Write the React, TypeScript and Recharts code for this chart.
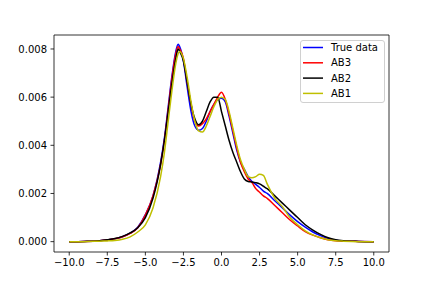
import React from 'react';
import { LineChart, Line, XAxis, YAxis, ReferenceArea } from 'recharts';

const xs = [
  -10, -9, -8, -7.5, -7, -6.5, -6, -5.5, -5, -4.5, -4, -3.75, -3.5, -3.25, -3, -2.85, -2.75, -2.5,
  -2.25, -2, -1.75, -1.5, -1.25, -1, -0.75, -0.5, -0.25, 0, 0.25, 0.5, 0.75, 1, 1.25, 1.5, 1.75, 2,
  2.25, 2.5, 2.75, 3, 3.5, 4, 4.5, 5, 5.5, 6, 6.5, 7, 7.5, 8, 9, 10,
];

const trueData = [
  0, 0.00001, 0.00004, 0.00007, 0.00012, 0.0002, 0.00035, 0.0006, 0.00112, 0.0019, 0.0033, 0.0043,
  0.0056, 0.0069, 0.0079, 0.0082, 0.0081, 0.0075, 0.0064, 0.0054, 0.0048, 0.00463, 0.0047, 0.005,
  0.0054, 0.0057, 0.0059, 0.00595, 0.0058, 0.0052, 0.0045, 0.0038, 0.0033, 0.003, 0.0027, 0.0025,
  0.00238, 0.00225, 0.0021, 0.002, 0.0017, 0.0014, 0.0011, 0.00083, 0.0006, 0.0004, 0.00025,
  0.00013, 0.00006, 0.00003, 0.00001, 0,
];

const ab3 = [
  0, 0.00001, 0.00004, 0.00007, 0.00012, 0.0002, 0.00034, 0.00058, 0.0011, 0.0019, 0.0032, 0.0042,
  0.0055, 0.0068, 0.0078, 0.0081, 0.008, 0.0076, 0.0066, 0.0057, 0.005, 0.0048, 0.0049, 0.0051,
  0.0054, 0.0057, 0.006, 0.0062, 0.0059, 0.0053, 0.0046, 0.0039, 0.0033, 0.0029, 0.0026, 0.00245,
  0.0022, 0.00205, 0.0019, 0.0018, 0.0015, 0.0012, 0.0009, 0.00065, 0.00042, 0.00027, 0.00016,
  0.00008, 0.00004, 0.00002, 0.00001, 0,
];

const ab2 = [
  0, 0.00001, 0.00004, 0.00008, 0.00013, 0.00022, 0.00036, 0.00058, 0.001, 0.0018, 0.0032, 0.0042,
  0.0054, 0.0066, 0.0076, 0.008, 0.0079, 0.0075, 0.0066, 0.0057, 0.0051, 0.00485, 0.005, 0.0054,
  0.0058, 0.006, 0.006, 0.0054, 0.0048, 0.0042, 0.0037, 0.0033, 0.0029, 0.0026, 0.0025, 0.00248,
  0.00245, 0.0024, 0.0023, 0.0022, 0.0019, 0.0016, 0.0013, 0.001, 0.0007, 0.00048, 0.0003, 0.00016,
  0.00008, 0.00004, 0.00001, 0,
];

const ab1 = [
  0, 0, 0.00002, 0.00003, 0.00005, 0.0001, 0.0002, 0.0004, 0.0007, 0.0014, 0.0027, 0.0037, 0.005,
  0.0063, 0.0074, 0.0078, 0.0079, 0.0076, 0.0068, 0.0058, 0.005, 0.0046, 0.00455, 0.0048, 0.0052,
  0.0056, 0.0059, 0.006, 0.0059, 0.0054, 0.0047, 0.004, 0.0034, 0.003, 0.0027, 0.00265, 0.0027,
  0.0028, 0.00275, 0.0024, 0.0018, 0.00145, 0.001, 0.0007, 0.00045, 0.00028, 0.00016, 0.00008,
  0.00004, 0.00002, 0, 0,
];

const xTicks = [-10, -7.5, -5, -2.5, 0, 2.5, 5, 7.5, 10];
const yTicks = [0, 0.002, 0.004, 0.006, 0.008];

const series = [
  { key: 'trueData', name: 'True data', color: '#0000ff' },
  { key: 'ab3', name: 'AB3', color: '#ff0000' },
  { key: 'ab2', name: 'AB2', color: '#000000' },
  { key: 'ab1', name: 'AB1', color: '#bfbf00' },
];

const rows = xs.map((x, i) => ({
  x,
  trueData: trueData[i],
  ab3: ab3[i],
  ab2: ab2[i],
  ab1: ab1[i],
}));

const font = 'DejaVu Sans, sans-serif';
const tickStyle = { fill: '#000', fontSize: 10, fontFamily: font };

const X_MIN = -11;
const X_MAX = 11;
const Y_MIN = -0.00043;
const Y_MAX = 0.00858;

export default function App() {
  return (
    <div style={{ position: 'absolute', left: 0, top: 0, width: 432, height: 288, background: '#fff' }}>
      <LineChart width={432} height={288} data={rows} margin={{ top: 35, right: 43, left: 0, bottom: 0 }}>
        <XAxis
          dataKey="x"
          type="number"
          domain={[X_MIN, X_MAX]}
          allowDataOverflow
          ticks={xTicks}
          height={36}
          tickSize={3.5}
          tickMargin={3}
          axisLine={false}
          tickLine={{ stroke: '#000', strokeWidth: 0.8 }}
          tick={tickStyle}
          tickFormatter={(v: number) => v.toFixed(1).replace('-', '\u2212')}
        />
        <YAxis
          type="number"
          domain={[Y_MIN, Y_MAX]}
          allowDataOverflow
          ticks={yTicks}
          width={54}
          tickSize={3.5}
          tickMargin={3.5}
          axisLine={false}
          tickLine={{ stroke: '#000', strokeWidth: 0.8 }}
          tick={tickStyle}
          tickFormatter={(v: number) => v.toFixed(3)}
        />
        {series.map((s) => (
          <Line
            key={s.key}
            type="monotone"
            dataKey={s.key}
            name={s.name}
            stroke={s.color}
            strokeWidth={1.5}
            dot={false}
            isAnimationActive={false}
          />
        ))}
        <ReferenceArea
          x1={X_MIN}
          x2={X_MAX}
          y1={Y_MIN}
          y2={Y_MAX}
          fill="none"
          stroke="#000"
          strokeWidth={0.8}
          ifOverflow="visible"
        />
      </LineChart>
      {/* legend box, upper right like matplotlib */}
      <svg
        width={86}
        height={64}
        style={{ position: 'absolute', left: 300, top: 40, fontFamily: font, fontSize: 10 }}
      >
        <rect x={0.5} y={0.5} width={84} height={62} rx={2.5} fill="rgba(255,255,255,0.8)" stroke="#d0d0d0" />
        {series.map((s, i) => {
          const cy = 7.5 + i * 15.3;
          return (
            <g key={s.key}>
              <line x1={3} x2={23} y1={cy} y2={cy} stroke={s.color} strokeWidth={1.5} />
              <text x={31} y={cy + 3.6} fill="#000">
                {s.name}
              </text>
            </g>
          );
        })}
      </svg>
    </div>
  );
}
